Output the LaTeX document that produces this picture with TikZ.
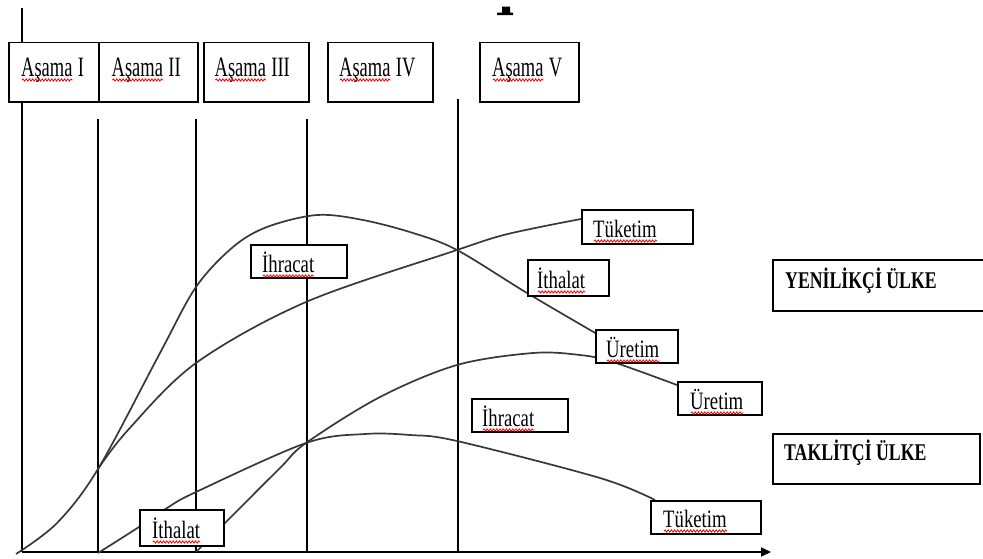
\documentclass[tikz,border=0pt]{standalone}
\usepackage{fontspec}
\setmainfont{Liberation Serif}
\usepackage{graphicx}
\usetikzlibrary{arrows.meta,decorations.pathmorphing,calc}

\pgfdeclarelayer{background}
\pgfsetlayers{background,main}

\tikzset{
  lane/.style={line width=1.8pt, black},
  curve/.style={line width=1.7pt, black!78, line join=round},
  frame/.style={draw=black, line width=1.9pt, fill=white, inner sep=0pt, anchor=north west},
  stagetxt/.style={inner sep=0pt, anchor=base west, font=\fontsize{28}{30}\selectfont},
  labeltxt/.style={inner sep=0pt, anchor=base west, font=\fontsize{25}{27}\selectfont},
  boldtxt/.style={inner sep=0pt, anchor=base west, font=\fontsize{24}{26}\selectfont\bfseries},
  squig/.style={draw=red, line width=0.8pt, decorate,
    decoration={snake, segment length=3.2pt, amplitude=1.1pt}},
}

\begin{document}
\begin{tikzpicture}[x=1pt,y=-1pt]
\useasboundingbox (0,0) rectangle (983,558);

% ---------- stage header boxes ----------
\node[frame, minimum width=90pt,  minimum height=59.5pt] (s1) at (8,41.5)   {};
\node[frame, minimum width=99pt,  minimum height=59.5pt] (s2) at (98,41.5)  {};
\node[frame, minimum width=105pt, minimum height=59.5pt] (s3) at (203,41.5) {};
\node[frame, minimum width=105pt, minimum height=59.5pt] (s4) at (327,41.5) {};
\node[frame, minimum width=99pt,  minimum height=59.5pt] (s5) at (479,41.5) {};

\node[stagetxt] (s1w) at (21,76)  {\scalebox{0.66}[1]{Aşama}};
\node[stagetxt] (s1n) at ($(s1w.base east)+(5,0)$) {\scalebox{0.66}[1]{I}};
\node[stagetxt] (s2w) at (111.5,76) {\scalebox{0.66}[1]{Aşama}};
\node[stagetxt] (s2n) at ($(s2w.base east)+(5,0)$) {\scalebox{0.66}[1]{II}};
\node[stagetxt] (s3w) at (214.5,76) {\scalebox{0.66}[1]{Aşama}};
\node[stagetxt] (s3n) at ($(s3w.base east)+(5,0)$) {\scalebox{0.66}[1]{III}};
\node[stagetxt] (s4w) at (339,76) {\scalebox{0.66}[1]{Aşama}};
\node[stagetxt] (s4n) at ($(s4w.base east)+(5,0)$) {\scalebox{0.66}[1]{IV}};
\node[stagetxt] (s5w) at (492,76) {\scalebox{0.66}[1]{Aşama}};
\node[stagetxt] (s5n) at ($(s5w.base east)+(5,0)$) {\scalebox{0.66}[1]{V}};

% ---------- curve labels ----------
\node[frame, minimum width=111pt, minimum height=34pt] (tuk1) at (581,209) {};
\node[frame, minimum width=81pt,  minimum height=36pt] (ith1) at (527,259) {};
\node[frame, minimum width=96pt,  minimum height=33pt] (ihr1) at (250,244) {};
\node[frame, minimum width=82pt,  minimum height=33pt] (ure1) at (595,329) {};
\node[frame, minimum width=84pt,  minimum height=33pt] (ure2) at (677,381) {};
\node[frame, minimum width=96pt,  minimum height=33pt] (ihr2) at (471,398) {};
\node[frame, minimum width=84pt,  minimum height=36pt] (ith2) at (139,509) {};
\node[frame, minimum width=110pt, minimum height=33pt] (tuk2) at (650,500) {};
\node[frame, minimum width=222pt, minimum height=51pt] (yen)  at (772,259) {};
\node[frame, minimum width=207pt, minimum height=50pt] (tak)  at (772,433) {};

\node[labeltxt] (tuk1t) at (593,237) {\scalebox{0.75}[1]{Tüketim}};
\node[labeltxt] (ith1t) at (537,288) {\scalebox{0.75}[1]{İthalat}};
\node[labeltxt] (ihr1t) at (262,272) {\scalebox{0.75}[1]{İhracat}};
\node[labeltxt] (ure1t) at (606,357) {\scalebox{0.75}[1]{Üretim}};
\node[labeltxt] (ure2t) at (690,409) {\scalebox{0.75}[1]{Üretim}};
\node[labeltxt] (ihr2t) at (482,426) {\scalebox{0.75}[1]{İhracat}};
\node[labeltxt] (ith2t) at (152,538) {\scalebox{0.75}[1]{İthalat}};
\node[labeltxt] (tuk2t) at (663,527) {\scalebox{0.75}[1]{Tüketim}};
\node[boldtxt]  (yent)  at (785,288) {\scalebox{0.74}[1]{YENİLİKÇİ ÜLKE}};
\node[boldtxt]  (takt)  at (784,460) {\scalebox{0.74}[1]{TAKLİTÇİ ÜLKE}};

% spelling marks under the words
\foreach \w in {s1w,s2w,s3w,s4w,s5w,tuk1t,ith1t,ihr1t,ure1t,ure2t,ihr2t,ith2t,tuk2t}
  \draw[squig] ($(\w.base west)+(1,4)$) -- ($(\w.base east)+(0,4)$);

% clipped glyph at the top edge
\fill (497,12.7) -- (502,12.7) -- (502,6.5) -- (510,6.5) -- (510,12.7)
      -- (513,12.7) -- (513,15) -- (497,15) -- cycle;

\begin{pgfonlayer}{background}
% stage boundaries
\coordinate (v1t) at (22,8);   \coordinate (v1b) at (22,552);
\coordinate (v2t) at (98,119); \coordinate (v2b) at (98,552);
\coordinate (v3t) at (196,119);\coordinate (v3b) at (196,552);
\coordinate (v4t) at (307,119);\coordinate (v4b) at (307,552);
\coordinate (v5t) at (458,99); \coordinate (v5b) at (458,552);
\foreach \i in {1,...,5} \draw[lane] (v\i t) -- (v\i b);

% time axis
\coordinate (ax0) at (22,552);
\coordinate (ax1) at (771,552);
\draw[lane, -{Triangle[length=10pt,width=9pt]}] (ax0) -- (ax1);

% innovating country: production and consumption
\coordinate (pInn0) at (16,554);
\coordinate (cInn0) at (98,469);
\draw[curve] plot[smooth, tension=0.55] coordinates {(pInn0) (57,523) (98,469) (160,353)
  (196,287) (233,247) (267,227) (317,215) (363,220) (413,233) (457,250) (527,293) (597,334)};
\draw[curve] plot[smooth, tension=0.55] coordinates {(cInn0) (128,430) (196,363) (306,302)
  (457,250) (500,236) (540,227) (581,219)};

% imitating country: consumption and production
\coordinate (cImi0) at (98,553);
\coordinate (pImi0) at (196,552);
\draw[curve] plot[smooth, tension=0.55] coordinates {(cImi0) (139,527) (167,508) (196,492)
  (306,443) (365,434) (410,435) (457,441) (600,478) (655,500)};
\draw[curve] plot[smooth, tension=0.55] coordinates {(pImi0) (223,525) (280,468) (306,443)
  (380,397) (457,365) (533,353) (580,355) (613,362) (677,385)};
\end{pgfonlayer}
\end{tikzpicture}
\end{document}
